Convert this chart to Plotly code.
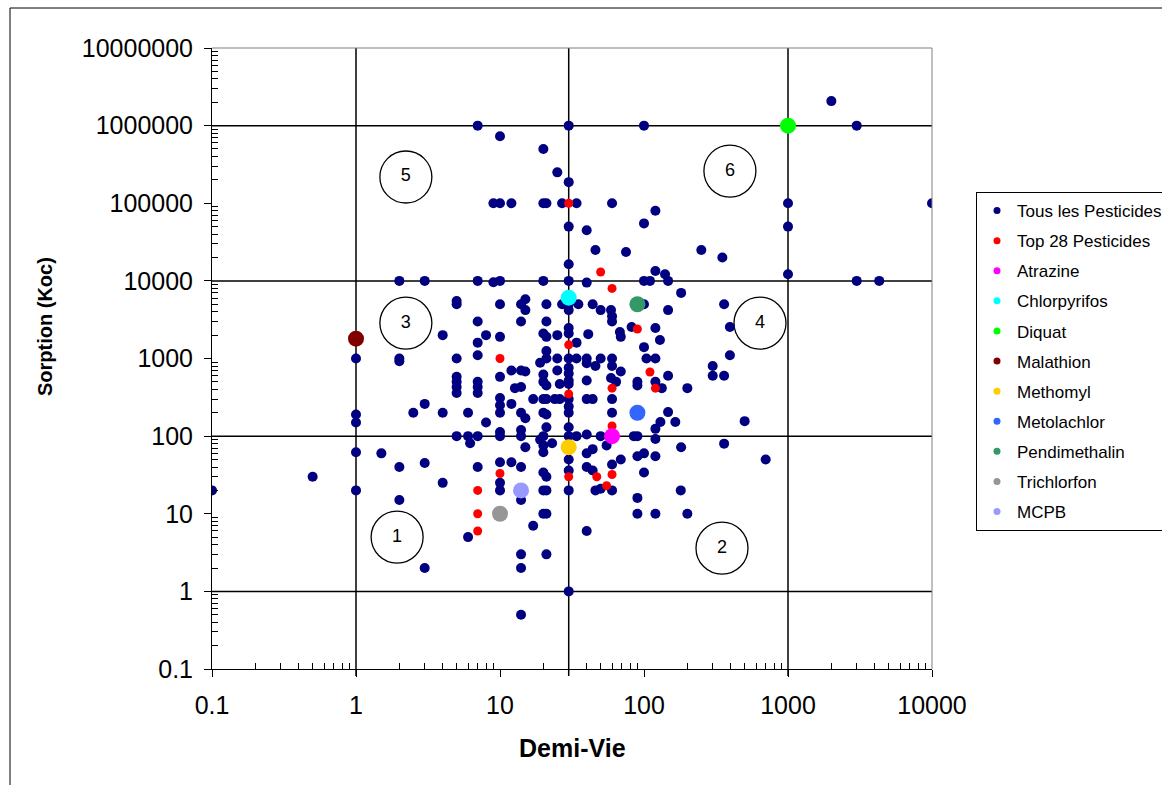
import plotly.graph_objects as go

# ---------------- data ----------------
# "Tous les Pesticides" (demi-vie, Koc)
tous_x = [
    0.1, 0.5, 1, 1, 1, 1, 1, 1.5, 2, 2, 2, 2, 2, 2.5, 3, 3, 3, 3, 4, 4, 4,
    5, 5, 5, 5, 5, 5, 5, 5, 6, 6, 6.2, 6,
    7, 7, 7, 7, 7, 7, 7, 7, 7, 7, 8, 8, 9, 9,
    10, 10, 10, 10, 10, 10, 10, 10, 10, 10, 10, 10, 10, 10,
    12, 12, 12, 12, 12.7,
    14, 15, 15, 14, 14, 15, 14, 14, 15, 14, 14, 15, 14, 14, 14, 14, 14,
    17, 17,
    20, 20, 21, 20, 21, 21, 20, 21, 21, 21, 19, 20, 20, 21, 20, 21, 20, 21, 21, 20,
    19, 20, 20, 20, 21, 20, 21, 20, 21, 21,
    23, 24, 25, 25, 25, 26, 25, 27, 27, 26,
    30, 30, 30, 30, 30, 30, 30, 30, 30, 30, 30, 30, 30, 30, 30, 30, 30, 30, 30, 30,
    30, 30, 30,
    34, 35, 34, 34, 34,
    40, 40, 41, 40, 40, 40, 40, 40, 40, 40, 40, 44, 44, 44, 44, 46, 46, 46,
    50, 50, 50, 50, 55, 59, 60, 60, 60, 60, 60, 59, 60, 60, 60, 60,
    64, 69, 68, 69, 69, 75, 82, 85,
    90, 90, 90, 90, 90, 90, 100, 100, 100, 100, 100, 104, 100, 100,
    110, 120, 120, 140, 147, 147, 120, 129, 120, 147, 120, 133, 147, 130, 165, 120,
    120, 120, 120, 181, 181, 180, 200, 200,
    250, 350, 360, 395, 395, 300, 300, 360, 500, 360, 700,
    1000, 1000, 1000, 2000, 3000, 3000, 4300, 10000,
]
tous_y = [
    20, 30, 1000, 190, 150, 62, 20, 60, 10000, 1000, 920, 40, 15, 200, 10000, 260, 45, 2, 2000, 200, 25,
    5000, 5500, 1000, 580, 500, 430, 360, 100, 200, 100, 81, 5,
    1000000, 10000, 3000, 1600, 1100, 500, 430, 360, 100, 40, 2000, 150, 100000, 9600,
    730000, 100000, 10000, 5000, 1900, 580, 310, 250, 200, 113, 100, 46, 25, 20,
    100000, 700, 260, 46, 415,
    5000, 5800, 4200, 3000, 700, 680, 430, 200, 170, 120, 100, 72, 40, 15, 3, 2, 0.5,
    300, 7,
    500000, 100000, 100000, 10000, 5000, 3000, 2100, 1900, 1250, 1000, 880, 620, 500, 450, 300, 300, 200, 190, 130, 100,
    90, 76, 62, 34, 30, 20, 20, 10, 10, 3,
    81, 300, 1000, 700, 2000, 300, 250000, 100000, 5000, 470,
    1000000, 187000, 50000, 16400, 10000, 5000, 4200, 2470, 2100, 1000, 760, 640, 520, 470, 300, 240, 200, 100, 50, 36,
    20, 1, 130,
    100000, 5000, 1600, 1000, 100,
    45000, 9500, 2060, 1000, 870, 520, 300, 105, 60, 40, 6, 5000, 300, 68, 36, 25000, 800, 20,
    4200, 1000, 100, 21, 76, 4200, 3500, 3000, 100000, 1000, 800, 560, 300, 200, 43, 20,
    500, 680, 2200, 1900, 50, 23500, 2540, 100,
    500, 450, 100, 55, 16, 10, 1000000, 55000, 10000, 5000, 1400, 1000, 60, 34,
    10000, 80000, 13400, 12200, 10000, 4200, 2470, 1730, 1000, 600, 500, 415, 204, 152, 152, 124,
    92, 55, 10, 7000, 72, 20, 415, 10,
    25000, 20000, 5000, 2540, 1100, 800, 600, 600, 156, 80, 50,
    100000, 50000, 12200, 2070000, 1000000, 10000, 10000, 100000,
]

# "Top 28 Pesticides"
top28_x = [30, 50, 60, 90, 30, 10, 110, 120, 60, 30, 60, 10, 7, 7, 7, 30, 47, 60, 55]
top28_y = [100000, 13000, 8000, 2400, 1500, 1000, 670, 415, 415, 350, 135, 33, 20, 10, 6, 30, 30, 32, 23]

# highlighted pesticides
named = ["Atrazine", "Chlorpyrifos", "Diquat", "Malathion", "Methomyl",
         "Metolachlor", "Pendimethalin", "Trichlorfon", "MCPB"]
named_x = [60, 30, 1000, 1, 30, 90, 90, 10, 14]
named_y = [100, 6070, 1000000, 1800, 72, 200, 5000, 10, 20]
named_colors = ["#FF00FF", "#00FFFF", "#00FF00", "#800000", "#FFCC00",
                "#3366FF", "#339966", "#969696", "#9999FF"]

# quadrant thresholds
x_limits = [1, 30, 1000]
y_limits = [1, 100, 10000, 1000000]

# zone labels
zone_labels = ["1", "2", "3", "4", "5", "6"]
zone_x = [1.93, 348, 2.22, 639, 2.22, 395]
zone_y = [5.0, 3.6, 2860, 2860, 218000, 260000]

# axis ticks
x_tickvals = [0.1, 1, 10, 100, 1000, 10000]
x_ticktext = ["0.1", "1", "10", "100", "1000", "10000"]
y_tickvals = [0.1, 1, 10, 100, 1000, 10000, 100000, 1000000, 10000000]
y_ticktext = ["0.1", "1", "10", "100", "1000", "10000", "100000", "1000000", "10000000"]

FONT = "Liberation Sans, Arial, sans-serif"

fig = go.Figure()

# zone circles
fig.add_trace(go.Scatter(
    x=zone_x, y=zone_y, text=zone_labels, mode="markers+text",
    textposition="middle center", textfont=dict(size=18, color="black", family=FONT),
    marker=dict(symbol="circle-open", size=52, color="black", line=dict(width=1.3)),
    showlegend=False, hoverinfo="skip"))

fig.add_trace(go.Scatter(
    x=tous_x, y=tous_y, mode="markers", name="Tous les Pesticides",
    marker=dict(color="#000080", size=10), showlegend=False))
fig.add_trace(go.Scatter(
    x=top28_x, y=top28_y, mode="markers", name="Top 28 Pesticides",
    marker=dict(color="#FF0000", size=9), showlegend=False))
for n, xv, yv, c in zip(named, named_x, named_y, named_colors):
    fig.add_trace(go.Scatter(
        x=[xv], y=[yv], mode="markers", name=n,
        marker=dict(color=c, size=16), showlegend=False))

# legend entries
legend_names = ["Tous les Pesticides", "Top 28 Pesticides"] + named
legend_colors = ["#000080", "#FF0000"] + named_colors
for i, (n, c) in enumerate(zip(legend_names, legend_colors)):
    fig.add_trace(go.Scatter(
        x=[None], y=[None], mode="markers", name=n, legendgroup=f"g{i}",
        marker=dict(color=c, size=7), showlegend=True))

# quadrant lines
for v in x_limits:
    fig.add_shape(type="line", xref="x", yref="paper", x0=v, x1=v, y0=-7 / 621, y1=1,
                  line=dict(color="black", width=1.5), layer="below")
for v in y_limits:
    fig.add_shape(type="line", xref="paper", yref="y", x0=0, x1=1, y0=v, y1=v,
                  line=dict(color="black", width=1.5), layer="below")

# plot area top/right border (gray)
fig.add_shape(type="line", xref="paper", yref="paper", x0=0, x1=1, y0=1, y1=1,
              line=dict(color="#808080", width=1))
fig.add_shape(type="line", xref="paper", yref="paper", x0=1, x1=1, y0=0, y1=1,
              line=dict(color="#808080", width=1))
# chart outer frame
fig.add_shape(type="rect", xref="paper", yref="paper",
              x0=(10 - 212) / 720, x1=(1175 - 212) / 720,
              y0=(669 - 800) / 621, y1=(669 - 8) / 621,
              line=dict(color="black", width=1))

minor_x = [k * 10 ** d for d in range(-1, 4) for k in range(2, 10)]
minor_y = [k * 10 ** d for d in range(-1, 7) for k in range(2, 10)]

axis_common = dict(type="log", showgrid=False, zeroline=False, showline=True,
                   linecolor="black", linewidth=1, ticks="outside", ticklen=7,
                   tickcolor="black", tickwidth=1,
                   tickfont=dict(size=25, color="black", family=FONT))

fig.update_xaxes(range=[-1, 4], tickmode="array", tickvals=x_tickvals, ticktext=x_ticktext,
                 minor=dict(tickmode="array", tickvals=minor_x, ticks="inside", ticklen=6,
                            tickcolor="black", showgrid=False),
                 ticklabelstandoff=7, **axis_common)
fig.update_yaxes(range=[-1, 7], tickmode="array", tickvals=y_tickvals, ticktext=y_ticktext,
                 minor=dict(tickmode="array", tickvals=minor_y, ticks="inside", ticklen=6,
                            tickcolor="black", showgrid=False),
                 ticklabelstandoff=6, **axis_common)

fig.add_annotation(text="<b>Demi-Vie</b>", xref="paper", yref="paper",
                   x=(572 - 212) / 720, y=(669 - 748) / 621, showarrow=False,
                   xanchor="center", yanchor="middle",
                   font=dict(size=25, color="black", family=FONT))
fig.add_annotation(text="<b>Sorption (Koc)</b>", xref="paper", yref="paper",
                   x=(45 - 212) / 720, y=(669 - 327) / 621, showarrow=False, textangle=-90,
                   xanchor="center", yanchor="middle",
                   font=dict(size=20, color="black", family=FONT))

fig.update_layout(
    width=1162, height=785, autosize=False,
    margin=dict(l=212, r=230, t=48, b=116, autoexpand=False),
    paper_bgcolor="white", plot_bgcolor="white",
    showlegend=True,
    legend=dict(x=(976 - 212) / 720, y=(669 - 192) / 621, xanchor="left", yanchor="top",
                bordercolor="black", borderwidth=1, bgcolor="white",
                font=dict(size=17, color="black", family=FONT),
                traceorder="grouped", tracegroupgap=5, itemwidth=30),
    font=dict(family=FONT, color="black"),
)

fig.write_html(
    "out.html",
    config={"responsive": False, "displayModeBar": False},
    post_script="document.body.style.margin='0px';document.body.style.overflow='hidden';",
)
